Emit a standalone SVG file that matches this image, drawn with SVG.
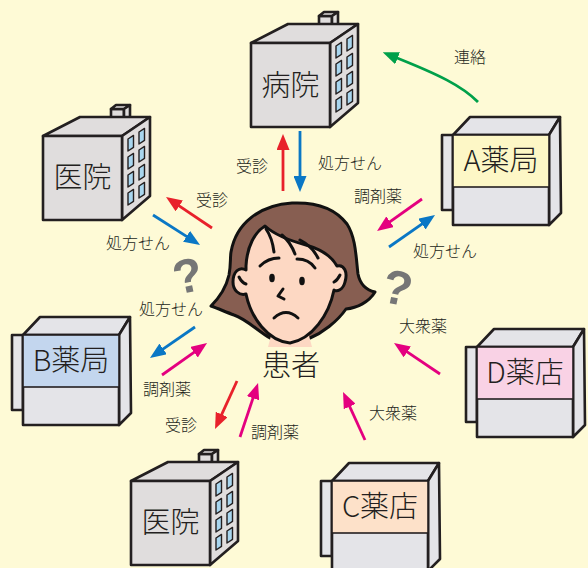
<svg xmlns="http://www.w3.org/2000/svg" width="588" height="568" viewBox="0 0 588 568">
  <defs>
    <style>
      .bld { fill: #e0dddd; stroke: #231f20; stroke-width: 2.6; stroke-linejoin: round; }
      .win { fill: #a9d6ef; stroke: #231f20; stroke-width: 1.4; stroke-linejoin: round; }
      .shop { fill: #e4e4e8; stroke: #231f20; stroke-width: 2.6; stroke-linejoin: round; }
      .bigtxt { font-family: "Noto Sans CJK JP", "Noto Sans", sans-serif; font-weight: 300; font-size: 29px; fill: #231f20; text-anchor: middle; }
      .lbl { font-family: "Noto Sans CJK JP", "Noto Sans", sans-serif; font-weight: 300; font-size: 16px; fill: #231f20; text-anchor: middle; }
      .q { font-family: "Liberation Sans", "DejaVu Sans", sans-serif; font-weight: bold; font-size: 48px; fill: #767676; text-anchor: middle; }
      .arr { fill: none; stroke-width: 2.8; }
      .red { stroke: #e8212b; }
      .blue { stroke: #0a77c5; }
      .pink { stroke: #e4007f; }
      .green { stroke: #00a04a; }
      .ink { fill: none; stroke: #111; stroke-width: 3; stroke-linecap: round; stroke-linejoin: round; }
    </style>
    <marker id="hRed" viewBox="0 0 16 13" refX="6" refY="6.5" markerWidth="16" markerHeight="13" markerUnits="userSpaceOnUse" orient="auto">
      <path d="M0,0 L16,6.5 L0,13 Z" fill="#e8212b"/>
    </marker>
    <marker id="hBlue" viewBox="0 0 16 13" refX="6" refY="6.5" markerWidth="16" markerHeight="13" markerUnits="userSpaceOnUse" orient="auto">
      <path d="M0,0 L16,6.5 L0,13 Z" fill="#0a77c5"/>
    </marker>
    <marker id="hPink" viewBox="0 0 16 13" refX="6" refY="6.5" markerWidth="16" markerHeight="13" markerUnits="userSpaceOnUse" orient="auto">
      <path d="M0,0 L16,6.5 L0,13 Z" fill="#e4007f"/>
    </marker>
    <marker id="hGreen" viewBox="0 0 16 13" refX="6" refY="6.5" markerWidth="16" markerHeight="13" markerUnits="userSpaceOnUse" orient="auto">
      <path d="M0,0 L16,6.5 L0,13 Z" fill="#00a04a"/>
    </marker>

    <!-- clinic / hospital block, origin = front top-left corner -->
    <g id="tower">
      <rect class="bld" x="68" y="-27" width="13" height="15"/>
      <polygon class="bld" points="68,-27 73,-31 87,-31 81,-27"/>
      <polygon class="bld" points="81,-27 87,-31 87,-16 81,-12"/>
      <polygon class="bld" points="0,0 37,-19 107,-19 79,0"/>
      <polygon class="bld" points="79,0 107,-19 107,60 79,84"/>
      <rect class="bld" x="0" y="0" width="79" height="84"/>
      <g class="win">
        <path d="M85,3 l5.5,-3.6 v12 l-5.5,3.6 z"/>
        <path d="M85,21 l5.5,-3.6 v12 l-5.5,3.6 z"/>
        <path d="M85,39 l5.5,-3.6 v12 l-5.5,3.6 z"/>
        <path d="M85,57 l5.5,-3.6 v12 l-5.5,3.6 z"/>
        <path d="M96,-4 l5.5,-3.6 v12 l-5.5,3.6 z"/>
        <path d="M96,14 l5.5,-3.6 v12 l-5.5,3.6 z"/>
        <path d="M96,32 l5.5,-3.6 v12 l-5.5,3.6 z"/>
        <path d="M96,50 l5.5,-3.6 v12 l-5.5,3.6 z"/>
      </g>
    </g>

    <!-- shop block without its sign, origin = front top-left corner -->
    <g id="shop">
      <rect class="shop" x="-11" y="0" width="11" height="75"/>
      <polygon class="shop" points="0,0 17,-18 107,-18 96,0"/>
      <polygon class="shop" points="96,0 107,-18 108,78 96,90"/>
      <rect class="shop" x="0" y="0" width="96" height="90"/>
    </g>
  </defs>

  <rect width="588" height="568" fill="#fefad6"/>

  <!-- connectors -->
  <g id="connectors">
    <path class="arr red" d="M283,191 L283,144" marker-end="url(#hRed)"/>
    <path class="arr blue" d="M300,131 L300,182" marker-end="url(#hBlue)"/>
    <path class="arr red" d="M212,228 L174.3,202.6" marker-end="url(#hRed)"/>
    <path class="arr blue" d="M153,215 L191.6,239.6" marker-end="url(#hBlue)"/>
    <path class="arr pink" d="M422,199 L385.2,225.2" marker-end="url(#hPink)"/>
    <path class="arr blue" d="M389,247 L426.8,220.7" marker-end="url(#hBlue)"/>
    <path class="arr blue" d="M195,327 L158.2,352.3" marker-end="url(#hBlue)"/>
    <path class="arr pink" d="M162,375 L198.9,348.8" marker-end="url(#hPink)"/>
    <path class="arr red" d="M237,381 L219.2,419.9" marker-end="url(#hRed)"/>
    <path class="arr pink" d="M240,437 L254.9,392.5" marker-end="url(#hPink)"/>
    <path class="arr pink" d="M365,440 L347.2,401.1" marker-end="url(#hPink)"/>
    <path class="arr pink" d="M440,374 L402.3,348.6" marker-end="url(#hPink)"/>
    <path class="arr green" d="M478,102 C462,86 440,75 392,56" marker-end="url(#hGreen)"/>

    <text class="lbl" x="252" y="172">受診</text>
    <text class="lbl" x="350" y="169">処方せん</text>
    <text class="lbl" x="212" y="206">受診</text>
    <text class="lbl" x="138" y="249">処方せん</text>
    <text class="lbl" x="378" y="202">調剤薬</text>
    <text class="lbl" x="445" y="257">処方せん</text>
    <text class="lbl" x="171" y="315">処方せん</text>
    <text class="lbl" x="167" y="395">調剤薬</text>
    <text class="lbl" x="181" y="431">受診</text>
    <text class="lbl" x="275" y="438">調剤薬</text>
    <text class="lbl" x="393" y="419">大衆薬</text>
    <text class="lbl" x="423" y="332">大衆薬</text>
    <text class="lbl" x="470" y="63">連絡</text>
  </g>

  <!-- hospital -->
  <g id="hospital" transform="translate(251,43)">
    <use href="#tower"/>
    <text class="bigtxt" x="39.5" y="53">病院</text>
  </g>

  <!-- clinic, upper left -->
  <g id="clinic-upper" transform="translate(43,136)">
    <use href="#tower"/>
    <text class="bigtxt" x="39.5" y="52">医院</text>
  </g>

  <!-- clinic, bottom -->
  <g id="clinic-lower" transform="translate(131,481)">
    <use href="#tower"/>
    <text class="bigtxt" x="39.5" y="52">医院</text>
  </g>

  <!-- pharmacy A -->
  <g id="pharmacy-a" transform="translate(453,135)">
    <use href="#shop"/>
    <rect x="0" y="0" width="96" height="52" fill="#fdf7c6" stroke="#231f20" stroke-width="1.6"/>
    <text class="bigtxt" x="48" y="36">A薬局</text>
  </g>

  <!-- pharmacy B -->
  <g id="pharmacy-b" transform="translate(23,335)">
    <use href="#shop"/>
    <rect x="0" y="0" width="96" height="52" fill="#c3d6ee" stroke="#231f20" stroke-width="1.6"/>
    <text class="bigtxt" x="48" y="36">B薬局</text>
  </g>

  <!-- drugstore C -->
  <g id="drugstore-c" transform="translate(332,481)">
    <use href="#shop"/>
    <rect x="0" y="0" width="96" height="52" fill="#fde1c9" stroke="#231f20" stroke-width="1.6"/>
    <text class="bigtxt" x="48" y="36">C薬店</text>
  </g>

  <!-- drugstore D -->
  <g id="drugstore-d" transform="translate(477,347)">
    <use href="#shop"/>
    <rect x="0" y="0" width="96" height="52" fill="#f9d2e5" stroke="#231f20" stroke-width="1.6"/>
    <text class="bigtxt" x="48" y="36">D薬店</text>
  </g>

  <!-- patient -->
  <g id="patient">
    <text class="q" transform="translate(191,292) rotate(-12)">?</text>
    <text class="q" transform="translate(394,304) rotate(12)">?</text>
    <!-- hair -->
    <path d="M231,252 C236,223 260,205 292,203 C315,202 335,208 347,224 C356,238 356,258 358,274 C360,284 366,290 375,292 C369,302 357,308 346,309 C337,322 322,333 310,338 L270,338 C258,331 246,319 234,315 C226,312 219,309 211,306 C219,298 226,288 229,275 C231,265 230,258 231,252 Z" fill="#875e51" stroke="#111" stroke-width="3" stroke-linejoin="round"/>
    <!-- neck -->
    <path d="M272,332 L308,332 L312,347 L268,347 Z" fill="#fdd8c3"/>
    <!-- face -->
    <path d="M246,266 C247,246 255,232 265,226 C276,236 291,241 306,245 C320,249 331,255 337,266 C344,264 348,272 345,282 C343,290 337,292 334,290 C329,315 312,339 290,343 C268,341 251,318 246,294 C239,296 233,290 233,282 C233,272 239,266 246,270 Z" fill="#fdd8c3" stroke="#111" stroke-width="3" stroke-linejoin="round"/>
    <!-- bangs strands -->
    <path class="ink" d="M266,229 C271,236 273,244 274,252"/>
    <path class="ink" d="M282,235 C288,240 292,246 295,254"/>
    <path class="ink" d="M300,240 C308,244 314,250 318,258"/>
    <!-- ear lines -->
    <path class="ink" stroke-width="2" d="M239,277 C241,281 243,283 246,284"/>
    <path class="ink" stroke-width="2" d="M340,275 C338,279 336,281 334,282"/>
    <!-- brows -->
    <path class="ink" d="M260,266 Q268,258 279,258"/>
    <path class="ink" d="M297,259 Q309,259 315,268"/>
    <!-- eyes -->
    <ellipse cx="272" cy="278" rx="2.8" ry="4.2" fill="#111"/>
    <ellipse cx="302" cy="281" rx="2.8" ry="4.2" fill="#111"/>
    <!-- nose and mouth -->
    <path class="ink" stroke-width="2.4" d="M283,289 L278,296 L284,299"/>
    <path class="ink" d="M274,318 Q286,307 298,318"/>
    <text class="bigtxt" x="291" y="376">患者</text>
  </g>
</svg>
